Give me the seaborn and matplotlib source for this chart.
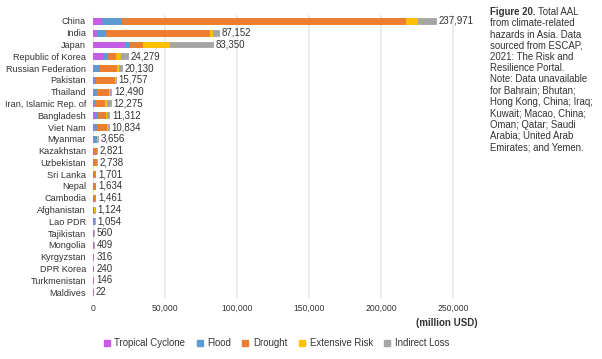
import matplotlib
matplotlib.use('Agg')
from matplotlib import pyplot as plt
from matplotlib.lines import Line2D
import numpy as np
import pandas as pd
import seaborn as sns

countries = ["China", "India", "Japan", "Republic of Korea", "Russian Federation",
             "Pakistan", "Thailand", "Iran, Islamic Rep. of", "Bangladesh", "Viet Nam",
             "Myanmar", "Kazakhstan", "Uzbekistan", "Sri Lanka", "Nepal", "Cambodia",
             "Afghanistan", "Lao PDR", "Tajikistan", "Mongolia", "Kyrgyzstan",
             "DPR Korea", "Turkmenistan", "Maldives"]
totals = [237971, 87152, 83350, 24279, 20130, 15757, 12490, 12275, 11312, 10834,
          3656, 2821, 2738, 1701, 1634, 1461, 1124, 1054, 560, 409, 316, 240, 146, 22]

# million USD
tropical_cyclone = [5500, 1900, 21500, 7200, 0, 0, 0, 0, 500, 300,
                    0, 0, 0, 0, 0, 0, 0, 0, 0, 0, 0, 0, 0, 0]
flood = [13900, 6200, 3500, 2300, 4150, 1150, 1850, 500, 2000, 1850,
         1800, 200, 0, 200, 100, 300, 0, 600, 0, 0, 0, 0, 0, 0]
drought = [197000, 72000, 9000, 6000, 12000, 13200, 8550, 7100, 6000, 6650,
           300, 2100, 2400, 1100, 1200, 800, 300, 200, 300, 200, 200, 100, 50, 22]
extensive_risk = [8300, 2300, 18500, 3000, 1150, 900, 450, 1400, 700, 700,
                  800, 0, 0, 0, 0, 0, 600, 0, 0, 0, 0, 0, 0, 0]
indirect_loss = [13271, 4752, 30850, 5779, 2830, 507, 1640, 3275, 2112, 1334,
                 756, 521, 338, 401, 334, 361, 224, 254, 260, 209, 116, 140, 96, 0]

series = ["Tropical Cyclone", "Flood", "Drought", "Extensive Risk", "Indirect Loss"]
colors = ["#c95ce6", "#5b9bd5", "#ed7d31", "#ffc000", "#a5a5a5"]

df = pd.DataFrame({"country": countries,
                   "Tropical Cyclone": tropical_cyclone,
                   "Flood": flood,
                   "Drought": drought,
                   "Extensive Risk": extensive_risk,
                   "Indirect Loss": indirect_loss})
cum = df[series].cumsum(axis=1)

sns.set_style("white")
plt.rcParams['font.family'] = ['Liberation Sans', 'DejaVu Sans']
text_c = "#333333"

fig = plt.figure(figsize=(6.02, 3.59), dpi=100)
ax = fig.add_axes([93 / 602, 1 - 298 / 359, (478 - 93) / 602, (298 - 15) / 359])

# stacked bars: draw cumulative totals from the outermost layer inwards
for name, col in reversed(list(zip(series, colors))):
    sns.barplot(x=cum[name], y=df["country"], orient="h", color=col,
                width=0.5, ax=ax, saturation=1, linewidth=0.6, edgecolor=col)

for i, t in enumerate(totals):
    ax.text(cum["Indirect Loss"][i] + 2000, i, f"{t:,}", va="center", ha="left",
            fontsize=7, color=text_c)

ax.set_xlim(0, 267000)
ax.set_xticks(np.arange(0, 250001, 50000))
ax.set_xticklabels([f"{v:,}" for v in range(0, 250001, 50000)], fontsize=6.2, color=text_c)
ax.tick_params(axis='y', labelsize=6.6, colors=text_c, length=0, pad=5)
ax.tick_params(axis='x', length=0, pad=4)
ax.set_ylabel("")
ax.set_xlabel("(million USD)", loc="right", fontsize=7, fontweight="bold", color=text_c, labelpad=4)
ax.grid(axis='x', color="#e8e8e8", linewidth=1.2)
ax.set_axisbelow(True)
for s in ax.spines.values():
    s.set_visible(False)

handles = [Line2D([], [], marker='s', linestyle='', color=c, markersize=4) for c in colors]
fig.legend(handles, series, loc="center", bbox_to_anchor=(276 / 602, 1 - 343 / 359),
           ncol=5, frameon=False, fontsize=6.9, handlelength=0.8, handletextpad=0.4,
           columnspacing=1.1, labelcolor=text_c)

# side caption
note_lines = ["from climate-related", "hazards in Asia. Data", "sourced from ESCAP,",
              "2021: The Risk and", "Resilience Portal.", "Note: Data unavailable",
              "for Bahrain; Bhutan;", "Hong Kong, China; Iraq;", "Kuwait; Macao, China;",
              "Oman; Qatar; Saudi", "Arabia; United Arab", "Emirates; and Yemen."]
cap_x = 490 / 602
cap_fs = 6.9
renderer = fig.canvas.get_renderer()
t0 = fig.text(cap_x, 1 - 12 / 359, "Figure 20.", fontsize=cap_fs, fontweight="bold",
              color=text_c, va="center")
bb = t0.get_window_extent(renderer=renderer)
fig.text((bb.x1 + 3) / 602, 1 - 12 / 359, "Total AAL", fontsize=cap_fs,
         color=text_c, va="center")
for k, line in enumerate(note_lines):
    fig.text(cap_x, 1 - (12 + 11.25 * (k + 1)) / 359, line, fontsize=cap_fs,
             color=text_c, va="center")

fig.savefig("out.png", dpi=100)
